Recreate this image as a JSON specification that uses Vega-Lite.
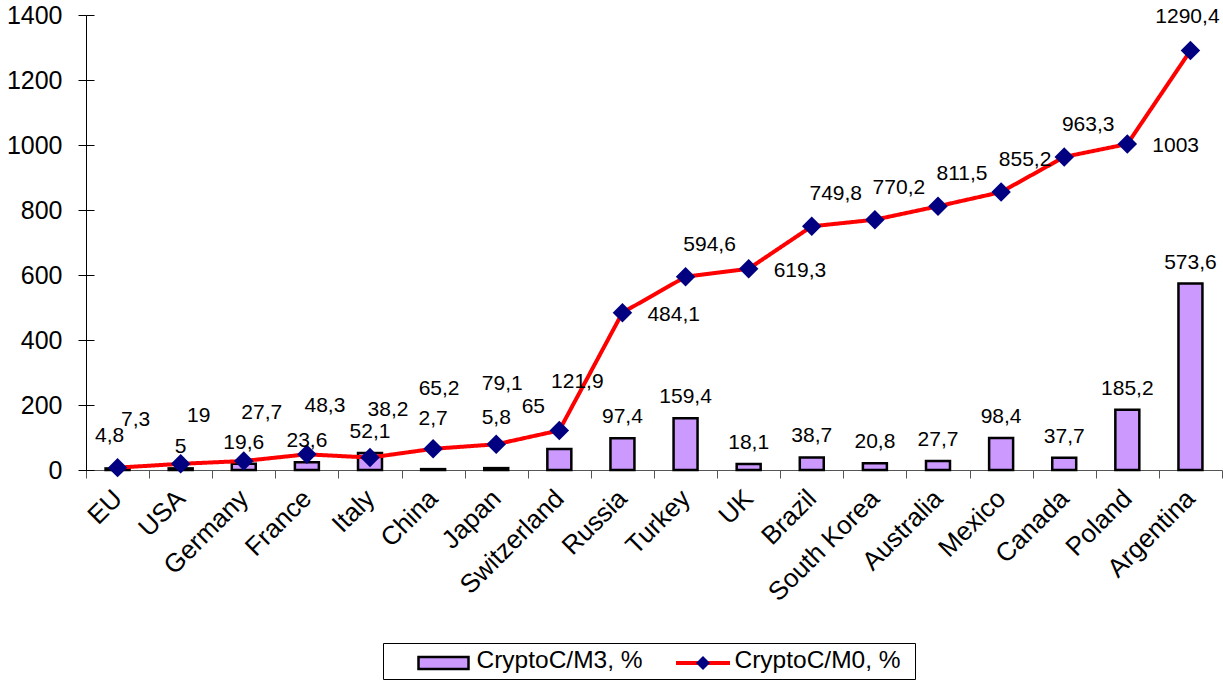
{
  "$schema": "https://vega.github.io/schema/vega-lite/v6.json",
  "width": 1136,
  "height": 455,
  "autosize": {"type": "none"},
  "padding": {"left": 86, "top": 15, "right": 1, "bottom": 212},
  "config": {
    "font": "Liberation Sans",
    "view": {"stroke": null},
    "locale": {"number": {"decimal": ",", "thousands": ".", "grouping": [3], "currency": ["", " €"]}},
    "text": {"fontSize": 21, "font": "Liberation Sans", "color": "black", "baseline": "middle"}
  },
  "resolve": {"axis": {"y": "independent"}},
  "data": {
    "values": [
      {"country": "EU", "m3": 4.8, "m0": 7.3},
      {"country": "USA", "m3": 5, "m0": 19},
      {"country": "Germany", "m3": 19.6, "m0": 27.7},
      {"country": "France", "m3": 23.6, "m0": 48.3},
      {"country": "Italy", "m3": 52.1, "m0": 38.2},
      {"country": "China", "m3": 2.7, "m0": 65.2},
      {"country": "Japan", "m3": 5.8, "m0": 79.1},
      {"country": "Switzerland", "m3": 65, "m0": 121.9},
      {"country": "Russia", "m3": 97.4, "m0": 484.1},
      {"country": "Turkey", "m3": 159.4, "m0": 594.6},
      {"country": "UK", "m3": 18.1, "m0": 619.3},
      {"country": "Brazil", "m3": 38.7, "m0": 749.8},
      {"country": "South Korea", "m3": 20.8, "m0": 770.2},
      {"country": "Australia", "m3": 27.7, "m0": 811.5},
      {"country": "Mexico", "m3": 98.4, "m0": 855.2},
      {"country": "Canada", "m3": 37.7, "m0": 963.3},
      {"country": "Poland", "m3": 185.2, "m0": 1003},
      {"country": "Argentina", "m3": 573.6, "m0": 1290.4}
    ]
  },
  "encoding": {
    "x": {
      "field": "country", "type": "nominal", "sort": null,
      "scale": {"paddingInner": 0, "paddingOuter": 0},
      "axis": {
        "title": null, "labelAngle": -45, "labelFontSize": 26, "labelColor": "black",
        "labelFont": "Liberation Sans", "tickBand": "extent", "tickSize": 8,
        "labelAlign": "right", "labelBaseline": "middle",
        "tickColor": "#555555", "domainColor": "#555555", "labelPadding": 16, "grid": false
      }
    }
  },
  "layer": [
    {
      "mark": {"type": "bar", "width": {"band": 0.38}, "stroke": "black", "strokeWidth": 2.5},
      "encoding": {
        "y": {
          "field": "m3", "type": "quantitative",
          "scale": {"domain": [0, 1400], "nice": false},
          "axis": {
            "orient": "left", "title": null, "values": [0, 200, 400, 600, 800, 1000, 1200, 1400], "format": "d",
            "labelFontSize": 25, "labelColor": "black", "labelFont": "Liberation Sans",
            "domainColor": "black", "tickColor": "black", "tickSize": 8, "labelPadding": 16, "grid": false
          }
        },
        "fill": {
          "datum": "r",
          "scale": {"domain": ["r"], "range": ["#CC99FF"]},
          "legend": {
            "orient": "none", "legendX": 331.5, "legendY": 636, "title": null, "padding": 0,
            "symbolType": "M-2.5,-0.6H2.5V0.6H-2.5Z", "symbolSize": 400, "symbolOffset": 14,
            "symbolStrokeColor": "black", "symbolStrokeWidth": 2.5, "symbolOpacity": 1,
            "labelFontSize": 24, "labelExpr": "''", "zindex": 2
          }
        }
      }
    },
    {
      "mark": {"type": "line", "strokeWidth": 4},
      "encoding": {
        "y": {
          "field": "m0", "type": "quantitative",
          "axis": {
            "orient": "left", "title": null, "values": [0, 200, 400, 600, 800, 1000, 1200, 1400],
            "labels": false, "domain": false, "grid": false, "tickColor": "black", "tickSize": -8
          }
        },
        "stroke": {
          "datum": "l",
          "scale": {"domain": ["l"], "range": ["#FF0000"]},
          "legend": {
            "orient": "none", "legendX": 589, "legendY": 636, "title": null, "padding": 0,
            "symbolType": "M-2.7,0H2.7", "symbolSize": 400, "symbolOffset": 16,
            "symbolStrokeWidth": 4, "symbolOpacity": 1,
            "labelFontSize": 24, "labelExpr": "''", "zindex": 2
          }
        },
        "strokeDash": {
          "datum": "CryptoC/M0, %",
          "scale": {"domain": ["CryptoC/M3, %", "CryptoC/M0, %"], "range": [[1, 0], [1, 0]]},
          "legend": {
            "orient": "none", "legendX": 297, "legendY": 628, "direction": "horizontal",
            "title": " ", "titleOrient": "right", "titlePadding": 8, "titleFontSize": 10,
            "strokeColor": "black", "padding": 6,
            "labelFontSize": 24.5, "labelColor": "black", "labelFont": "Liberation Sans", "labelLimit": 400,
            "symbolOpacity": 0, "symbolSize": 400, "symbolOffset": 0, "symbolStrokeWidth": 1,
            "labelOffset": 63, "columnPadding": 4, "zindex": 0
          }
        }
      }
    },
    {
      "mark": {"type": "point", "filled": true, "size": 380, "color": "#000080", "opacity": 1},
      "encoding": {
        "y": {"field": "m0", "type": "quantitative", "axis": null},
        "shape": {
          "datum": "d",
          "scale": {"domain": ["d"], "range": ["diamond"]},
          "legend": {
            "orient": "none", "legendX": 605, "legendY": 636, "title": null, "padding": 0,
            "symbolSize": 196, "symbolOffset": 0, "symbolFillColor": "#000080",
            "symbolStrokeColor": "#000080", "symbolStrokeWidth": 0, "symbolOpacity": 1,
            "labelFontSize": 24, "labelExpr": "''", "zindex": 3
          }
        }
      }
    },
    {
      "transform": [{"filter": {"field": "country", "oneOf": ["EU", "USA", "Germany", "France", "Italy", "Switzerland"]}}],
      "mark": {"type": "text", "dx": 18, "dy": -48},
      "encoding": {"y": {"field": "m0", "type": "quantitative", "axis": null}, "text": {"field": "m0", "type": "quantitative", "format": ".1~f"}}
    },
    {
      "transform": [{"filter": {"field": "country", "oneOf": ["China", "Japan"]}}],
      "mark": {"type": "text", "dx": 6, "dy": -60},
      "encoding": {"y": {"field": "m0", "type": "quantitative", "axis": null}, "text": {"field": "m0", "type": "quantitative", "format": ".1~f"}}
    },
    {
      "transform": [{"filter": {"field": "country", "oneOf": ["Turkey", "Brazil", "South Korea", "Australia", "Mexico", "Canada"]}}],
      "mark": {"type": "text", "dx": 24, "dy": -32},
      "encoding": {"y": {"field": "m0", "type": "quantitative", "axis": null}, "text": {"field": "m0", "type": "quantitative", "format": ".1~f"}}
    },
    {
      "transform": [{"filter": {"field": "country", "oneOf": ["Russia", "UK", "Poland"]}}],
      "mark": {"type": "text", "align": "left", "dx": 25, "dy": 2},
      "encoding": {"y": {"field": "m0", "type": "quantitative", "axis": null}, "text": {"field": "m0", "type": "quantitative", "format": ".1~f"}}
    },
    {
      "transform": [{"filter": {"field": "country", "oneOf": ["Argentina"]}}],
      "mark": {"type": "text", "dx": -3, "dy": -34},
      "encoding": {"y": {"field": "m0", "type": "quantitative", "axis": null}, "text": {"field": "m0", "type": "quantitative", "format": ".1~f"}}
    },
    {
      "transform": [{"filter": {"not": {"field": "country", "oneOf": ["EU", "China", "Japan", "Switzerland"]}}}],
      "mark": {"type": "text", "dy": -21},
      "encoding": {"y": {"field": "m3", "type": "quantitative", "axis": null}, "text": {"field": "m3", "type": "quantitative", "format": ".1~f"}}
    },
    {
      "transform": [{"filter": {"field": "country", "oneOf": ["EU"]}}],
      "mark": {"type": "text", "dx": -8, "dy": -32},
      "encoding": {"y": {"field": "m3", "type": "quantitative", "axis": null}, "text": {"field": "m3", "type": "quantitative", "format": ".1~f"}}
    },
    {
      "transform": [{"filter": {"field": "country", "oneOf": ["China", "Japan"]}}],
      "mark": {"type": "text", "dy": -50},
      "encoding": {"y": {"field": "m3", "type": "quantitative", "axis": null}, "text": {"field": "m3", "type": "quantitative", "format": ".1~f"}}
    },
    {
      "transform": [{"filter": {"field": "country", "oneOf": ["Switzerland"]}}],
      "mark": {"type": "text", "dx": -26, "dy": -42},
      "encoding": {"y": {"field": "m3", "type": "quantitative", "axis": null}, "text": {"field": "m3", "type": "quantitative", "format": ".1~f"}}
    }
  ]
}
